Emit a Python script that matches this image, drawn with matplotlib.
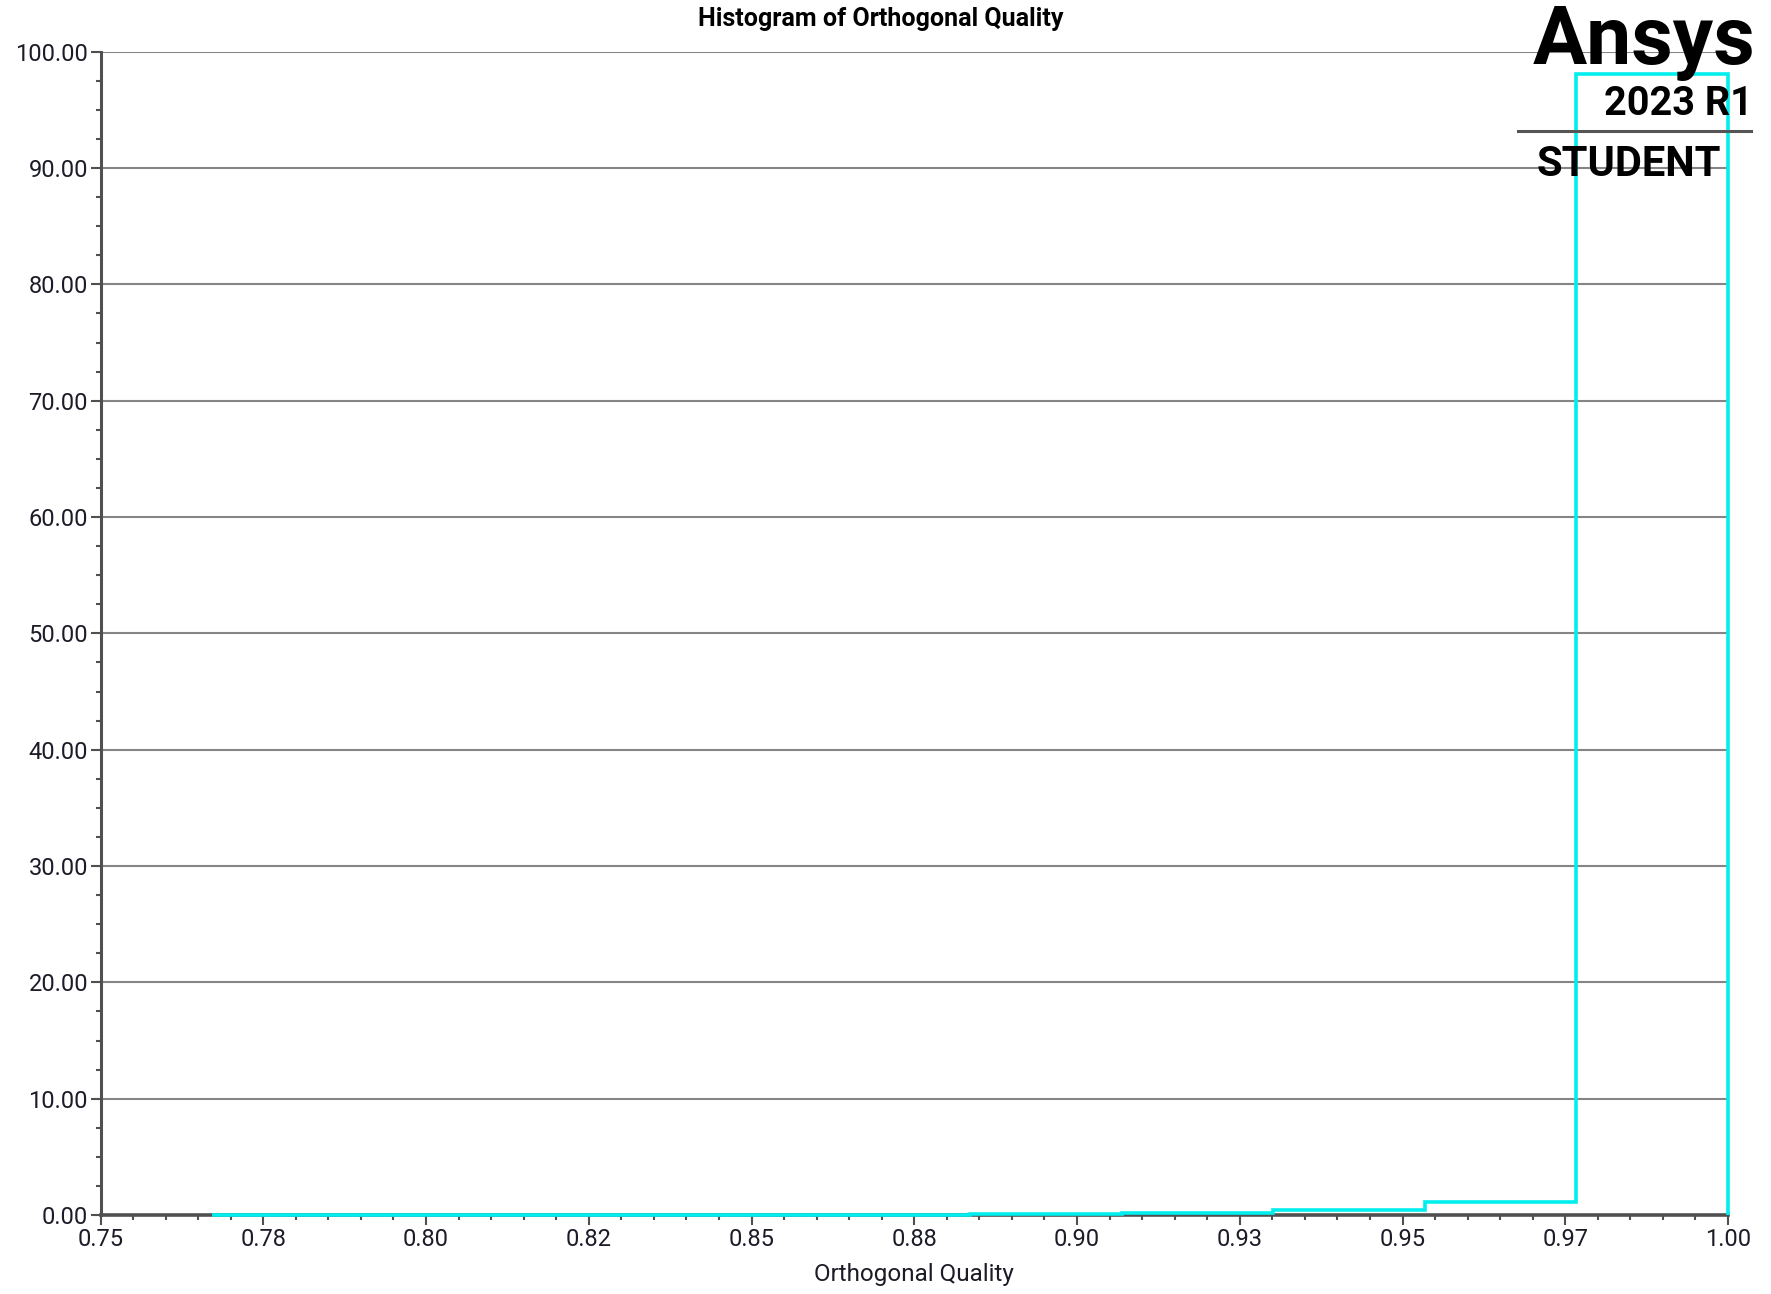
import matplotlib
matplotlib.use("Agg")
import matplotlib.pyplot as plt
from matplotlib.ticker import MultipleLocator, FixedLocator, FixedFormatter
from matplotlib.lines import Line2D

# Histogram bins of orthogonal quality (percent of cells per bin)
bin_edges = [0.7672, 0.79048, 0.81376, 0.83704, 0.86032, 0.8836,
             0.90688, 0.93016, 0.95344, 0.97672, 1.0]
bin_percent = [0.005, 0.01, 0.01, 0.02, 0.04, 0.10, 0.20, 0.43, 1.10, 98.08]

x_tick_pos = [0.75, 0.775, 0.80, 0.825, 0.85, 0.875, 0.90, 0.925, 0.95, 0.975, 1.00]
x_tick_labels = ["0.75", "0.78", "0.80", "0.82", "0.85", "0.88",
                 "0.90", "0.93", "0.95", "0.97", "1.00"]
y_ticks = [0, 10, 20, 30, 40, 50, 60, 70, 80, 90, 100]

plt.rcParams['font.family'] = ['Roboto', 'DejaVu Sans']

W, H = 1771, 1294
fig = plt.figure(figsize=(W / 100, H / 100), dpi=100)
ax = fig.add_axes([100.5 / W, 1 - 1215 / H, (1728 - 100.5) / W, (1215 - 51.7) / H])

text_col = '#1c1c28'
axis_col = '#505050'
grid_col = '#858585'

ax.set_xlim(0.75, 1.0)
ax.set_ylim(0, 100)

# horizontal grid at every major y tick
for yv in y_ticks[1:]:
    ax.axhline(yv, color=grid_col, lw=1.5, zorder=1)

ax.stairs(bin_percent, bin_edges, baseline=0, fill=False,
          color='#00eeee', lw=2.6, zorder=4, clip_on=False)

for side in ('top', 'right'):
    ax.spines[side].set_visible(False)
ax.spines['left'].set_color(axis_col)
ax.spines['left'].set_linewidth(2.2)
ax.spines['bottom'].set_color(axis_col)
ax.spines['bottom'].set_linewidth(2.6)

ax.xaxis.set_major_locator(FixedLocator(x_tick_pos))
ax.xaxis.set_major_formatter(FixedFormatter(x_tick_labels))
ax.xaxis.set_minor_locator(MultipleLocator(0.005))
ax.yaxis.set_major_locator(FixedLocator(y_ticks))
ax.yaxis.set_major_formatter(FixedFormatter([f"{v:.2f}" for v in y_ticks]))
ax.yaxis.set_minor_locator(MultipleLocator(2.5))

ax.tick_params(which='major', direction='out', length=7, width=1.5,
               color=axis_col, labelsize=17, labelcolor=text_col, pad=2)
ax.tick_params(which='minor', direction='out', length=3.5, width=1.5,
               color=axis_col)

ax.set_xlabel("Orthogonal Quality", fontsize=17.5, color=text_col, labelpad=9)

fig.text(881 / W, 1 - 19 / H, "Histogram of Orthogonal Quality",
         ha='center', va='center', fontsize=18, fontweight='bold', color='black')

# product badge in the upper right corner
fig.text(1755 / W, 1 - 64 / H, "Ansys", ha='right', va='baseline',
         fontsize=58, fontweight='bold', color='black', zorder=5)
fig.text(1753 / W, 1 - 115 / H, "2023 R1", ha='right', va='baseline',
         fontsize=28.5, fontweight='bold', color='black', zorder=5)
fig.add_artist(Line2D([1518 / W, 1751 / W], [1 - 131 / H, 1 - 131 / H],
                      transform=fig.transFigure, color='#555555', lw=2.2))
fig.text(1628.5 / W, 1 - 176 / H, "STUDENT", ha='center', va='baseline',
         fontsize=30, fontweight='bold', color='black', zorder=5)

fig.savefig("out.png", dpi=100, facecolor='white')
